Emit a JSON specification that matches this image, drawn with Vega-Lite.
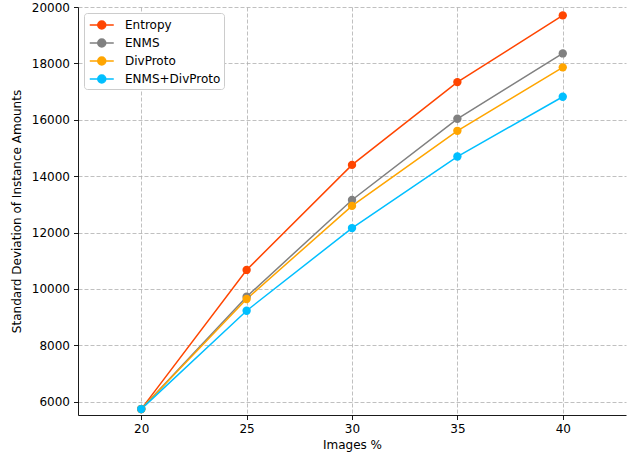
{
  "$schema": "https://vega.github.io/schema/vega-lite/v6.json",
  "autosize": "none",
  "width": 548,
  "height": 408,
  "padding": {"left": 78, "top": 7, "right": 6, "bottom": 42},
  "background": "white",
  "config": {
    "view": {"stroke": null},
    "font": "DejaVu Sans",
    "axis": {
      "labelFont": "DejaVu Sans",
      "titleFont": "DejaVu Sans",
      "labelFontSize": 12,
      "titleFontSize": 12,
      "titleFontWeight": "normal",
      "labelColor": "#000",
      "titleColor": "#000",
      "domainColor": "#000",
      "domainWidth": 0.9,
      "tickColor": "#000",
      "tickSize": 4.5,
      "tickWidth": 0.9,
      "labelPadding": 4,
      "gridColor": "#b0b0b0",
      "gridDash": [4, 2],
      "gridWidth": 0.8
    },
    "legend": {
      "labelFont": "DejaVu Sans",
      "labelFontSize": 12,
      "labelColor": "#000"
    }
  },
  "data": {
    "values": [
      {"x": 20, "y": 5740, "method": "Entropy"},
      {"x": 25, "y": 10675, "method": "Entropy"},
      {"x": 30, "y": 14400, "method": "Entropy"},
      {"x": 35, "y": 17337, "method": "Entropy"},
      {"x": 40, "y": 19702, "method": "Entropy"},
      {"x": 20, "y": 5740, "method": "ENMS"},
      {"x": 25, "y": 9726, "method": "ENMS"},
      {"x": 30, "y": 13155, "method": "ENMS"},
      {"x": 35, "y": 16035, "method": "ENMS"},
      {"x": 40, "y": 18353, "method": "ENMS"},
      {"x": 20, "y": 5740, "method": "DivProto"},
      {"x": 25, "y": 9645, "method": "DivProto"},
      {"x": 30, "y": 12946, "method": "DivProto"},
      {"x": 35, "y": 15609, "method": "DivProto"},
      {"x": 40, "y": 17860, "method": "DivProto"},
      {"x": 20, "y": 5740, "method": "ENMS+DivProto"},
      {"x": 25, "y": 9229, "method": "ENMS+DivProto"},
      {"x": 30, "y": 12160, "method": "ENMS+DivProto"},
      {"x": 35, "y": 14697, "method": "ENMS+DivProto"},
      {"x": 40, "y": 16816, "method": "ENMS+DivProto"}
    ]
  },
  "encoding": {
    "x": {
      "field": "x", "type": "quantitative",
      "scale": {"domain": [17, 43], "nice": false, "zero": false},
      "axis": {"values": [20, 25, 30, 35, 40], "title": "Images %", "titlePadding": 5, "format": "d"}
    },
    "y": {
      "field": "y", "type": "quantitative",
      "scale": {"domain": [5530, 20000], "nice": false, "zero": false},
      "axis": {"values": [6000, 8000, 10000, 12000, 14000, 16000, 18000, 20000], "format": "d", "title": "Standard Deviation of Instance Amounts", "titlePadding": 8}
    },
    "color": {
      "field": "method", "type": "nominal",
      "scale": {"domain": ["Entropy", "ENMS", "DivProto", "ENMS+DivProto"], "range": ["#FF4500", "#808080", "#FFA500", "#00BFFF"]},
      "legend": {
        "title": null,
        "orient": "top-left",
        "offset": 6,
        "fillColor": "white",
        "strokeColor": "#cccccc",
        "cornerRadius": 3,
        "padding": 3,
        "rowPadding": 2,
        "symbolType": "M-0.78,0L2.22,0M0.22,0A0.5,0.5 0 1,1 1.22,0A0.5,0.5 0 1,1 0.22,0Z",
        "symbolSize": 256,
        "symbolStrokeWidth": 1.5,
        "labelOffset": 20
      }
    }
  },
  "layer": [
    {"mark": {"type": "line", "strokeWidth": 1.5, "clip": true}},
    {"mark": {"type": "point", "filled": true, "size": 70, "opacity": 1}}
  ]
}
